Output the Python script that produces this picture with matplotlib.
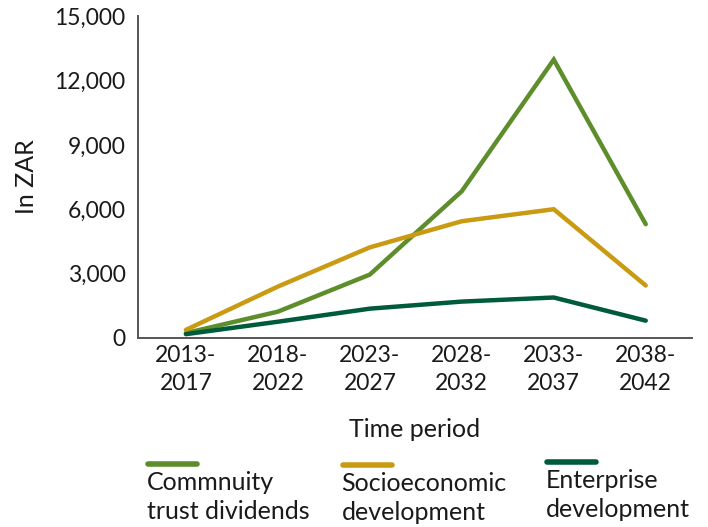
"""Projected community benefit flows by five-year period"""
import matplotlib
matplotlib.use('Agg')
import matplotlib.pyplot as plt
from matplotlib.lines import Line2D

periods = ["2013-\n2017", "2018-\n2022", "2023-\n2027", "2028-\n2032", "2033-\n2037", "2038-\n2042"]
community = [220, 1220, 2950, 6840, 12980, 5300]
socioeconomic = [370, 2390, 4220, 5440, 6000, 2440]
enterprise = [170, 750, 1360, 1690, 1880, 800]

names = ["Commnuity\ntrust dividends", "Socioeconomic\ndevelopment", "Enterprise\ndevelopment"]
colors = ["#5e8e2b", "#c99a12", "#005b3b"]

plt.rcParams['font.family'] = ['Lato', 'DejaVu Sans']

fig = plt.figure(figsize=(7.08, 5.27), dpi=100)
ax = fig.add_axes([0.195, 0.359, 0.782, 0.610])

x = list(range(len(periods)))
for series, col in zip([community, socioeconomic, enterprise], colors):
    ax.plot(x, series, color=col, lw=3.2, solid_capstyle='round', solid_joinstyle='miter')

ax.set_xlim(-0.52, 5.5)
ax.set_ylim(0, 15000)
ax.set_yticks(range(0, 15001, 3000))
ax.set_yticklabels([f"{v:,}" for v in range(0, 15001, 3000)])
ax.set_xticks(x)
ax.set_xticklabels(periods, linespacing=1.45)
ax.tick_params(length=0, labelsize=16.5, colors='#1a1a1a', pad=5)
ax.tick_params(axis='y', pad=9)
for s in ['top', 'right']:
    ax.spines[s].set_visible(False)
for s in ['left', 'bottom']:
    ax.spines[s].set_color('#555555')
    ax.spines[s].set_linewidth(1.4)

ax.set_xlabel("Time period", fontsize=18, color='#1a1a1a', labelpad=17)
ax.set_ylabel("In ZAR", fontsize=18, color='#1a1a1a', labelpad=12)

# legend: line sample above a two-line label
leg_x = [148, 343, 547]
leg_y = [464, 465, 462]
W, H = 708, 527
for name, col, lx, ly in zip(names, colors, leg_x, leg_y):
    fig.add_artist(Line2D([lx / W, (lx + 49) / W], [1 - ly / H, 1 - ly / H],
                          color=col, lw=4, solid_capstyle='round'))
    fig.text(lx / W - 0.002, 1 - (ly + 7) / H, name, fontsize=18, color='#1a1a1a',
             va='top', ha='left', linespacing=1.32)

fig.savefig('out.png', dpi=100)
